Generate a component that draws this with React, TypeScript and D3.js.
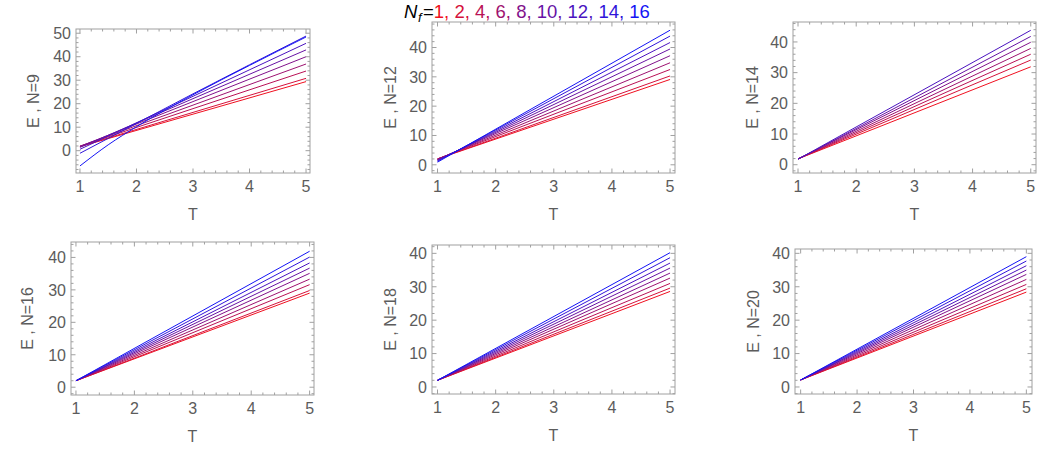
import React, { useEffect, useRef } from 'react';
import * as d3 from 'd3';

type Pt = [number, number];

const nfValues = [1, 2, 4, 6, 8, 10, 12, 14, 16];
const xTickValues = [1, 2, 3, 4, 5];

// N = 9 : the two largest Nf bend down near T = 1
const seriesN9: Pt[][] = [
  [[1, 1.7], [5, 29.4]],
  [[1, 1.8], [5, 30.8]],
  [[1, 1.9], [5, 33.9]],
  [[1, 1.9], [5, 36.9]],
  [[1, 1.8], [5, 40.0]],
  [[1, 1.4], [5, 42.9]],
  [[1, 0.6], [5, 45.7]],
  [[1, -1.1], [2, 11.6], [3, 24.2], [5, 48.8]],
  [[1, -6.5], [1.5, 2.5], [2, 10.2], [3, 23.8], [4, 36.3], [5, 48.4]],
];

const seriesN12: Pt[][] = [
  [[1, 2.0], [5, 29.1]],
  [[1, 2.0], [5, 30.3]],
  [[1, 2.0], [5, 32.5]],
  [[1, 1.9], [5, 34.8]],
  [[1, 1.8], [5, 37.2]],
  [[1, 1.6], [5, 39.5]],
  [[1, 1.4], [5, 41.7]],
  [[1, 1.2], [5, 43.9]],
  [[1, 0.9], [5, 45.9]],
];

// only Nf = 1 .. 12 are drawn for N = 14
const seriesN14: Pt[][] = [
  [[1, 1.9], [5, 31.9]],
  [[1, 1.9], [5, 34.1]],
  [[1, 1.9], [5, 36.0]],
  [[1, 1.9], [5, 37.9]],
  [[1, 1.9], [5, 39.9]],
  [[1, 1.8], [5, 41.8]],
  [[1, 1.8], [5, 43.8]],
];

const seriesN16: Pt[][] = [
  [[1, 2.0], [5, 29.0]],
  [[1, 2.0], [5, 29.8]],
  [[1, 2.0], [5, 31.6]],
  [[1, 2.0], [5, 33.3]],
  [[1, 2.0], [5, 35.1]],
  [[1, 2.0], [5, 36.7]],
  [[1, 2.0], [5, 38.3]],
  [[1, 2.0], [5, 40.1]],
  [[1, 2.0], [5, 41.9]],
];

const seriesN18: Pt[][] = [
  [[1, 2.0], [5, 28.6]],
  [[1, 2.0], [5, 29.6]],
  [[1, 2.0], [5, 31.0]],
  [[1, 2.0], [5, 32.6]],
  [[1, 2.0], [5, 34.1]],
  [[1, 2.0], [5, 35.6]],
  [[1, 2.0], [5, 37.1]],
  [[1, 2.0], [5, 38.7]],
  [[1, 2.0], [5, 40.2]],
];

const seriesN20: Pt[][] = [
  [[1, 2.1], [5, 28.4]],
  [[1, 2.1], [5, 29.4]],
  [[1, 2.1], [5, 30.7]],
  [[1, 2.1], [5, 32.2]],
  [[1, 2.1], [5, 33.7]],
  [[1, 2.1], [5, 35.0]],
  [[1, 2.1], [5, 36.3]],
  [[1, 2.1], [5, 37.7]],
  [[1, 2.1], [5, 39.0]],
];

const panels = [
  { n: 9, series: seriesN9, box: [76, 29, 310, 173], xDom: [0.93, 5.07], yDom: [-9.5, 51.8], labelX: 33 },
  { n: 12, series: seriesN12, box: [432, 22, 675, 173], xDom: [0.905, 5.085], yDom: [-2.8, 48.7], labelX: 390 },
  { n: 14, series: seriesN14, box: [793, 22, 1036, 173], xDom: [0.914, 5.09], yDom: [-2.7, 46.5], labelX: 752 },
  { n: 16, series: seriesN16, box: [71, 242, 314, 395], xDom: [0.915, 5.075], yDom: [-2.4, 44.75], labelX: 27 },
  { n: 18, series: seriesN18, box: [432, 245, 675, 394], xDom: [0.905, 5.085], yDom: [-2.1, 42.5], labelX: 390 },
  { n: 20, series: seriesN20, box: [795, 249, 1032, 394], xDom: [0.9, 5.1], yDom: [-2.1, 41.3], labelX: 753 },
];

const FONT = '"Liberation Sans", Arial, sans-serif';
const TEXT = '#5c5c5c';
const FRAME = '#a0a0a0';
const colorOf = (i: number) => d3.interpolateRgb('#f01020', '#1414f5')(i / (nfValues.length - 1));

const App = () => {
  const svgRef = useRef<SVGSVGElement | null>(null);

  useEffect(() => {
    const svg = d3.select(svgRef.current);
    svg.selectAll('*').remove();

    panels.forEach(p => {
      const [x0, y0, x1, y1] = p.box;
      const x = d3.scaleLinear().domain(p.xDom).range([x0, x1]);
      const y = d3.scaleLinear().domain(p.yDom).range([y1, y0]);
      const g = svg.append('g');

      // curves
      const line = d3.line<Pt>()
        .x(d => x(d[0]))
        .y(d => y(d[1]))
        .curve(d3.curveMonotoneX);
      p.series.forEach((s, i) => {
        g.append('path')
          .datum(s)
          .attr('fill', 'none')
          .attr('stroke', colorOf(i))
          .attr('stroke-width', 1)
          .attr('d', line);
      });

      // frame
      g.append('rect')
        .attr('x', x0).attr('y', y0)
        .attr('width', x1 - x0).attr('height', y1 - y0)
        .attr('fill', 'none')
        .attr('stroke', FRAME)
        .attr('stroke-width', 1);

      // ticks on all four sides, pointing inwards
      const xt = d3.range(Math.ceil(p.xDom[0] * 5), Math.floor(p.xDom[1] * 5) + 1).map(v => v / 5);
      xt.forEach(v => {
        const major = Math.abs(v - Math.round(v)) < 1e-6;
        const len = major ? 4.5 : 2.5;
        const px = x(v);
        g.append('line').attr('x1', px).attr('x2', px).attr('y1', y1).attr('y2', y1 - len)
          .attr('stroke', FRAME);
        g.append('line').attr('x1', px).attr('x2', px).attr('y1', y0).attr('y2', y0 + len)
          .attr('stroke', FRAME);
      });
      const yt = d3.range(Math.ceil(p.yDom[0] / 2), Math.floor(p.yDom[1] / 2) + 1).map(v => v * 2);
      yt.forEach(v => {
        const major = v % 10 === 0;
        const len = major ? 4.5 : 2.5;
        const py = y(v);
        g.append('line').attr('x1', x0).attr('x2', x0 + len).attr('y1', py).attr('y2', py)
          .attr('stroke', FRAME);
        g.append('line').attr('x1', x1).attr('x2', x1 - len).attr('y1', py).attr('y2', py)
          .attr('stroke', FRAME);
      });

      // tick labels
      xTickValues.forEach(v => {
        g.append('text')
          .attr('x', x(v)).attr('y', y1 + 19)
          .attr('text-anchor', 'middle')
          .attr('font-family', FONT).attr('font-size', 16)
          .attr('fill', TEXT)
          .text(v);
      });
      yt.filter(v => v % 10 === 0).forEach(v => {
        g.append('text')
          .attr('x', x0 - 5).attr('y', y(v))
          .attr('dy', '0.36em')
          .attr('text-anchor', 'end')
          .attr('font-family', FONT).attr('font-size', 16)
          .attr('fill', TEXT)
          .text(v);
      });

      // axis labels
      g.append('text')
        .attr('x', (x0 + x1) / 2).attr('y', y1 + 47)
        .attr('text-anchor', 'middle')
        .attr('font-family', FONT).attr('font-size', 16)
        .attr('fill', TEXT)
        .text('T');
      g.append('text')
        .attr('transform', `translate(${p.labelX},${(y0 + y1) / 2}) rotate(-90)`)
        .attr('dy', '0.36em')
        .attr('text-anchor', 'middle')
        .attr('font-family', FONT).attr('font-size', 16)
        .attr('fill', TEXT)
        .text(`E , N=${p.n}`);
    });

    // legend
    const legend = svg.append('text')
      .attr('x', 404).attr('y', 18)
      .attr('font-family', FONT).attr('font-size', 18.5);
    legend.append('tspan').attr('font-style', 'italic').attr('fill', '#000').text('N');
    legend.append('tspan').attr('font-style', 'italic').attr('fill', '#000')
      .attr('font-size', 13).attr('dx', 0.5).attr('dy', 4).text('f');
    legend.append('tspan').attr('fill', '#000').attr('dx', 1.5).attr('dy', -4).text('=');
    nfValues.forEach((nf, i) => {
      legend.append('tspan')
        .attr('fill', colorOf(i))
        .text(i < nfValues.length - 1 ? `${nf}, ` : `${nf}`);
    });
  }, []);

  return (
    <svg
      ref={svgRef}
      width={1059}
      height={453}
      style={{ position: 'absolute', left: 0, top: 0, background: '#fff' }}
    ></svg>
  );
};

export default App;
